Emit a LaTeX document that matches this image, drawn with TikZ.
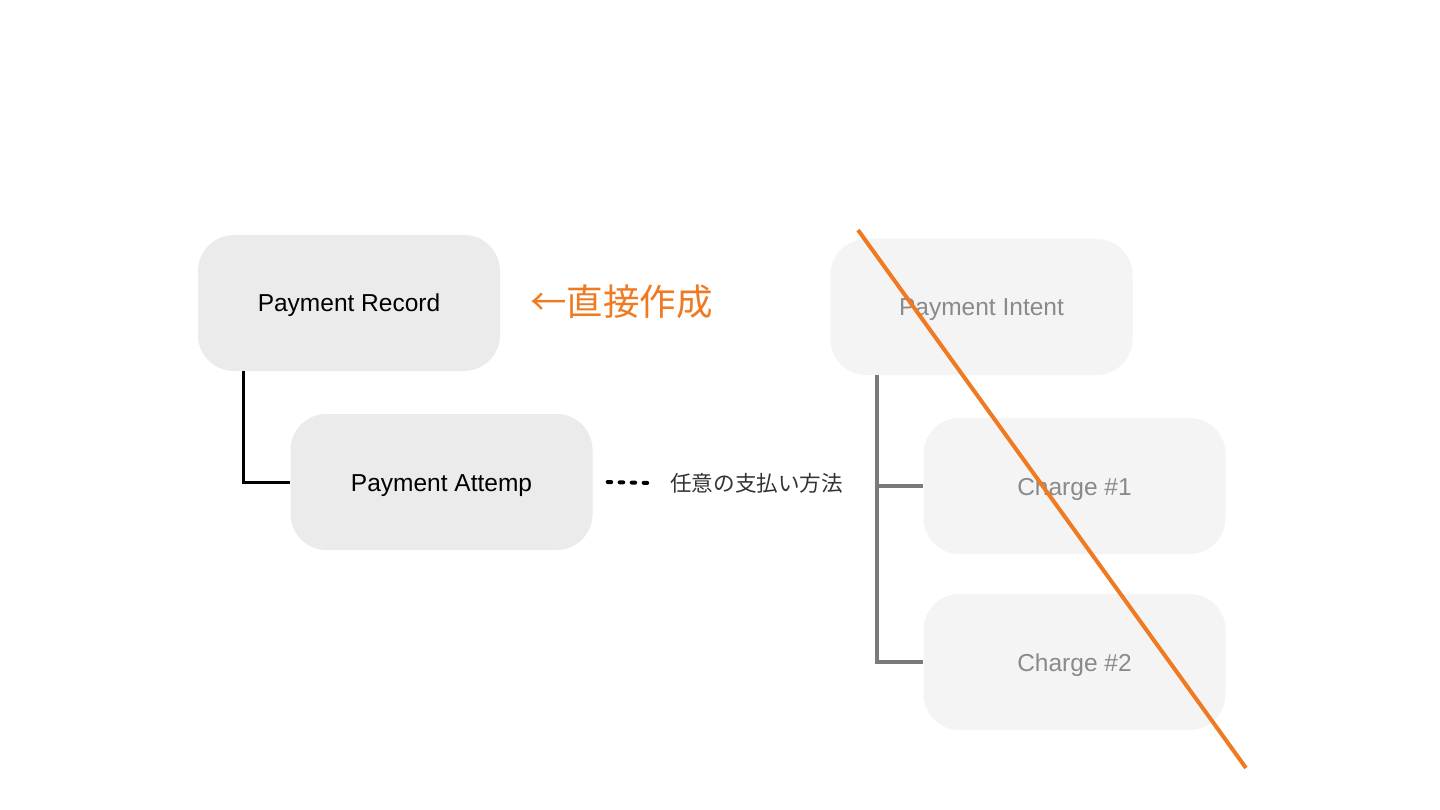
\documentclass[tikz,border=0pt]{standalone}
\usepackage{fontspec}
\setmainfont{Liberation Sans}
\newfontfamily\jafont{Noto Sans CJK JP}
\usepackage{xcolor}
\usetikzlibrary{positioning}
\definecolor{boxfill}{HTML}{EBEBEB}
\definecolor{oldfill}{HTML}{F4F4F4}
\definecolor{oldtext}{HTML}{8A8A8A}
\definecolor{oldline}{HTML}{7A7A7A}
\definecolor{cutorange}{HTML}{F07A22}

\begin{document}
\begin{tikzpicture}[x=1pt,y=-1pt,
    box/.style={fill=boxfill,rounded corners=36pt,minimum width=302pt,minimum height=136pt,
      inner sep=0pt,text height=18pt,text depth=0pt,font=\fontsize{24.5}{29}\selectfont},
    oldbox/.style={box,fill=oldfill,text=oldtext},
    conn/.style={line width=3pt,black},
    oldconn/.style={line width=4pt,oldline}]
        \useasboundingbox[fill=white] (0,0) rectangle (1440,810);
        % new model
        \node[box] (rec) at (349,303) {Payment Record};
        \node[box] (att) at (441.5,482) {Payment Attemp};
        \draw[conn] ([xshift=46pt]rec.south west) |- (att.west);
        \node[anchor=west,inner sep=0pt,text=cutorange,font=\jafont\fontsize{36.5}{42}\selectfont] (note) at (530,302) {←直接作成};
        % payment method, optional
        \node[anchor=west,inner sep=0pt,text=black!80,font=\jafont\fontsize{21.6}{26}\selectfont] (way) at (670,483) {任意の支払い方法};
        \draw[line width=4pt,line cap=round,dash pattern=on 3.5pt off 8.5pt] ([xshift=15pt]att.east) -- ([xshift=-20pt]way.west);
        % old model
        \node[oldbox] (pi) at (981.5,307) {Payment Intent};
        \node[oldbox] (ch1) at (1074.5,486) {Charge \#1};
        \node[oldbox] (ch2) at (1074.5,662) {Charge \#2};
        \coordinate (trunk) at ([xshift=47pt]pi.south west);
        \draw[oldconn] (trunk) |- (ch2.west);
        \draw[oldconn] (ch1.west) -- (ch1.west -| trunk);
        % struck out
        \coordinate (cut1) at (858,230);
        \coordinate (cut2) at (1246,768);
        \draw[cutorange,line width=4pt] (cut1) -- (cut2);
\end{tikzpicture}
\end{document}
